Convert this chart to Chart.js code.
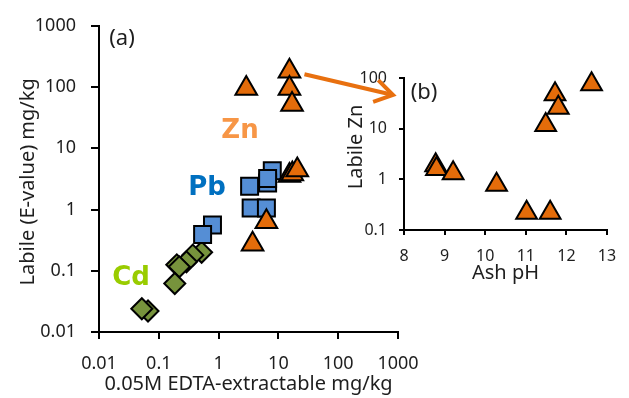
<!DOCTYPE html>
<html><head><meta charset="utf-8">
<script src="https://cdn.jsdelivr.net/npm/chart.js@4"></script>
<style>
html,body{margin:0;padding:0;background:#fff;}
#wrap{position:relative;width:629px;height:398px;overflow:hidden;}
#main{position:absolute;left:0;top:0;}
#inset{position:absolute;left:280px;top:40px;}
</style></head><body>
<div id="wrap">
<canvas id="main" width="629" height="398"></canvas>
<canvas id="inset" width="349" height="250"></canvas>
</div>
<script>
// ---- data ----
const znEdta   = [2.9, 15.3, 15.3, 16.9, 15.3, 17.1, 20.7, 6.3, 3.7];
const znLabile = [95, 181, 95, 52, 3.6, 3.8, 4.4, 0.63, 0.27];
const pbEdta   = [3.3, 7.9, 6.6, 6.6, 3.5, 6.3, 0.79, 0.54];
const pbLabile = [2.4, 4.3, 2.7, 3.2, 1.06, 1.06, 0.56, 0.39];
const cdEdta   = [0.52, 0.37, 0.29, 0.2, 0.22, 0.185, 0.066, 0.052];
const cdLabile = [0.20, 0.18, 0.14, 0.125, 0.116, 0.062, 0.022, 0.024];
const ashPH    = [12.62, 11.72, 11.8, 11.49, 8.78, 8.8, 9.21, 10.28, 11.02, 11.6];
const znInset  = [75, 48, 26, 11.8, 1.9, 1.6, 1.32, 0.78, 0.22, 0.22];
const mainTicks  = [0.01, 0.1, 1, 10, 100, 1000];
const insetYTicks = [0.1, 1, 10, 100];
const insetXTicks = [8, 9, 10, 11, 12, 13];
const xTitle = '0.05M EDTA-extractable mg/kg';
const yTitle = 'Labile (E-value) mg/kg';
const insetXTitle = 'Ash pH';
const insetYTitle = 'Labile Zn';

const ORANGE = '#E46C0A', BLUE = '#558ED5', GREEN = '#77933C';
const FONT = "'Noto Sans', 'Open Sans', sans-serif";
const TXT = '#1e1e1e';
const INSET_LEFT = 280, INSET_TOP = 40;

function pts(xs, ys){ return xs.map((x,i)=>({x:x, y:ys[i]})); }
function fixTicks(vals){ return function(s){ s.ticks = vals.map(v=>({value:v})); }; }

const textPlugin = {
  id:'txt',
  afterDraw(chart, args, opts){
    const ctx = chart.ctx, a = chart.chartArea;
    ctx.save();
    (opts.items||[]).forEach(it=>{
      ctx.font = it.font; ctx.fillStyle = it.color;
      ctx.textAlign = 'center'; ctx.textBaseline = 'middle';
      ctx.save();
      ctx.translate(a.left + it.dx, a.top + it.dy);
      if (it.rot) ctx.rotate(-Math.PI/2);
      ctx.fillText(it.text, 0, 0);
      ctx.restore();
    });
    ctx.restore();
  }
};

const mainChart = new Chart(document.getElementById('main'), {
  type:'scatter',
  plugins:[textPlugin],
  data:{ datasets:[
    {label:'Zn', data:pts(znEdta, znLabile), pointStyle:'triangle', radius:12.5, backgroundColor:ORANGE, borderColor:'#000', borderWidth:2, clip:false},
    {label:'Pb', data:pts(pbEdta, pbLabile), pointStyle:'rect', radius:12, backgroundColor:BLUE, borderColor:'#000', borderWidth:2, clip:false},
    {label:'Cd', data:pts(cdEdta, cdLabile), pointStyle:'rectRot', radius:10.5, backgroundColor:GREEN, borderColor:'#000', borderWidth:2, clip:false}
  ]},
  options:{
    responsive:false, animation:false, events:[],
    layout:{padding:{left:0, top:19, right:231, bottom:0}},
    plugins:{legend:{display:false}, tooltip:{enabled:false},
      txt:{items:[
        {text:'(a)', font:"22px "+FONT, color:TXT, dx:23, dy:13},
        {text:'Zn', font:"bold 26px 'DejaVu Sans'", color:'#F79646', dx:141, dy:105},
        {text:'Pb', font:"bold 26px 'DejaVu Sans'", color:'#0070C0', dx:108, dy:162},
        {text:'Cd', font:"bold 26px 'DejaVu Sans'", color:'#99CC00', dx:32, dy:252},
        {text:yTitle, font:"20px "+FONT, color:TXT, dx:-71, dy:156, rot:true}
      ]}
    },
    scales:{
      x:{type:'logarithmic', min:0.01, max:1000, afterFit:s=>{s.height=66;}, afterBuildTicks:fixTicks(mainTicks),
         border:{display:true, color:'#000', width:2},
         grid:{drawOnChartArea:false, drawTicks:true, tickLength:7, color:'#000', lineWidth:2},
         ticks:{autoSkip:false, maxRotation:0, padding:14, color:TXT, font:{family:FONT, size:18}, callback:v=>String(v)},
         title:{display:true, text:xTitle, color:TXT, font:{family:FONT, size:20}, padding:{top:0,bottom:2}}},
      y:{type:'logarithmic', min:0.01, max:1000, afterFit:s=>{s.width=99;}, afterBuildTicks:fixTicks(mainTicks),
         border:{display:true, color:'#000', width:2},
         grid:{drawOnChartArea:false, drawTicks:true, tickLength:8, color:'#000', lineWidth:2},
         ticks:{autoSkip:false, padding:15, color:TXT, font:{family:FONT, size:18}, callback:v=>String(v)},
         title:{display:false}}
    }
  }
});

const arrowPlugin = {
  id:'arrow',
  afterDraw(chart){
    const ctx = chart.ctx, a = chart.chartArea;
    const mx = mainChart.scales.x, my = mainChart.scales.y;
    const sx = mx.getPixelForValue(znEdta[1]) + 15 - INSET_LEFT;
    const sy = my.getPixelForValue(znLabile[1]) + 3 - INSET_TOP;
    const ex = a.left - 11, ey = a.top + 17;
    const ang = Math.atan2(ey - sy, ex - sx);
    const L = 21, spread = 0.56;
    ctx.save();
    ctx.strokeStyle = '#E8700F'; ctx.lineWidth = 4; ctx.lineCap = 'butt'; ctx.lineJoin = 'miter';
    ctx.beginPath(); ctx.moveTo(sx, sy); ctx.lineTo(ex - 2*Math.cos(ang), ey - 2*Math.sin(ang)); ctx.stroke();
    ctx.beginPath();
    ctx.moveTo(ex - L*Math.cos(ang - spread), ey - L*Math.sin(ang - spread));
    ctx.lineTo(ex, ey);
    ctx.lineTo(ex - L*Math.cos(ang + spread), ey - L*Math.sin(ang + spread));
    ctx.stroke();
    ctx.restore();
  }
};

const insetChart = new Chart(document.getElementById('inset'), {
  type:'scatter',
  plugins:[textPlugin, arrowPlugin],
  data:{ datasets:[
    {label:'Zn', data:pts(ashPH, znInset), pointStyle:'triangle', radius:12, backgroundColor:ORANGE, borderColor:'#000', borderWidth:2, clip:false}
  ]},
  options:{
    responsive:false, animation:false, events:[],
    layout:{padding:{left:0, top:38, right:22, bottom:0}},
    plugins:{legend:{display:false}, tooltip:{enabled:false},
      txt:{items:[
        {text:'(b)', font:"22px "+FONT, color:TXT, dx:20, dy:15},
        {text:insetYTitle, font:"20px "+FONT, color:TXT, dx:-48, dy:69, rot:true}
      ]}
    },
    scales:{
      x:{type:'linear', min:8, max:13, afterFit:s=>{s.height=60;}, afterBuildTicks:fixTicks(insetXTicks),
         border:{display:true, color:'#000', width:2},
         grid:{drawOnChartArea:false, drawTicks:true, tickLength:5, color:'#000', lineWidth:2},
         ticks:{autoSkip:false, maxRotation:0, padding:12, color:TXT, font:{family:FONT, size:16}},
         title:{display:true, text:insetXTitle, color:TXT, font:{family:FONT, size:20}, padding:{top:0,bottom:5}}},
      y:{type:'logarithmic', min:0.1, max:100, afterFit:s=>{s.width=124;}, afterBuildTicks:fixTicks(insetYTicks),
         border:{display:true, color:'#000', width:2},
         grid:{drawOnChartArea:false, drawTicks:true, tickLength:5, color:'#000', lineWidth:2},
         ticks:{autoSkip:false, padding:12, color:TXT, font:{family:FONT, size:16}, callback:v=>String(v)},
         title:{display:false}}
    }
  }
});
</script>
</body></html>
